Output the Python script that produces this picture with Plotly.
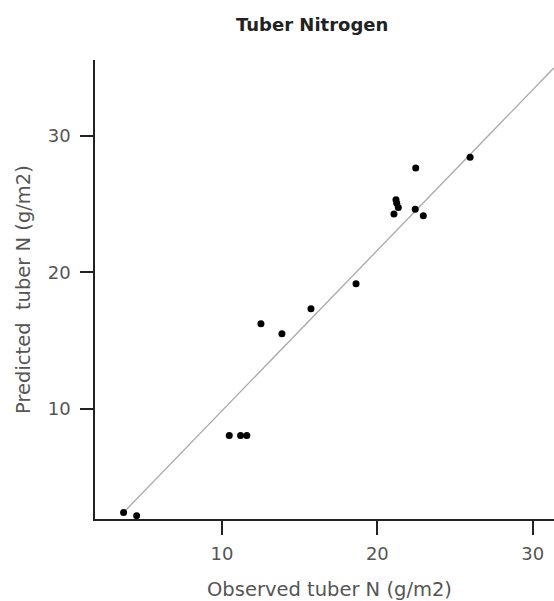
import plotly.graph_objects as go

observed = [3.67, 4.51, 10.47, 11.2, 11.6, 12.51, 13.86, 15.73, 18.63,
            22.47, 21.2, 21.25, 21.35, 21.07, 22.44, 22.96, 25.97]
predicted = [2.44, 2.2, 8.07, 8.07, 8.07, 16.24, 15.51, 17.34, 19.17,
             27.63, 25.3, 25.05, 24.75, 24.26, 24.62, 24.13, 28.42]

fit_intercept = -1.87
fit_slope = 1.174

x_range = [1.83, 31.37]
y_range = [1.96, 35.53]
tick_vals = [10, 20, 30]

title_text = "Tuber Nitrogen"
x_title = "Observed tuber N (g/m2)"
y_title = "Predicted\u00a0 tuber N (g/m2)"

line_x = [min(observed), x_range[1]]
line_y = [fit_intercept + fit_slope * v for v in line_x]

fig = go.Figure()
fig.add_trace(go.Scatter(x=line_x, y=line_y, mode="lines",
                         line=dict(color="#a8a8a8", width=1.3),
                         hoverinfo="skip", showlegend=False))
fig.add_trace(go.Scatter(x=observed, y=predicted, mode="markers",
                         marker=dict(color="black", size=7),
                         showlegend=False))

font_family = "DejaVu Sans"
gray = "#555555"
fig.update_layout(
    width=554, height=601,
    margin=dict(l=95, r=0, t=60, b=82),
    paper_bgcolor="white", plot_bgcolor="white",
    font=dict(family=font_family, size=18, color=gray),
    xaxis=dict(range=x_range, tickvals=tick_vals, showgrid=False, zeroline=False,
               showline=True, linecolor="#222222", linewidth=1.5,
               ticks="outside", ticklen=14, tickwidth=1.5, tickcolor="#222222",
               ticklabelstandoff=4,
               tickfont=dict(size=18, color=gray)),
    yaxis=dict(range=y_range, tickvals=tick_vals, showgrid=False, zeroline=False,
               showline=True, linecolor="#222222", linewidth=1.5,
               ticks="outside", ticklen=13, tickwidth=1.5, tickcolor="#222222",
               ticklabelstandoff=6,
               tickfont=dict(size=18, color=gray)),
    annotations=[
        dict(text="<b>" + title_text + "</b>", xref="paper", yref="paper",
             x=(312 - 95) / 459, y=(519 - 25) / 459, xanchor="center", yanchor="middle",
             showarrow=False, font=dict(size=18, color="#222222")),
        dict(text=x_title, xref="paper", yref="paper",
             x=(329 - 95) / 459, y=(519 - 589) / 459, xanchor="center", yanchor="middle",
             showarrow=False, font=dict(size=19.5, color=gray)),
        dict(text=y_title, xref="paper", yref="paper", textangle=-90,
             x=(23 - 95) / 459, y=(519 - 290) / 459, xanchor="center", yanchor="middle",
             showarrow=False, font=dict(size=19.5, color=gray)),
    ],
)

fig.write_html("out.html")
